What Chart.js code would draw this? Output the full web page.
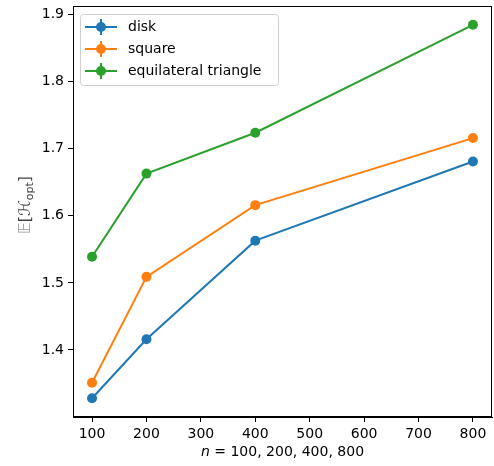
<!DOCTYPE html>
<html>
<head>
<meta charset="utf-8">
<script src="https://cdn.jsdelivr.net/npm/chart.js@4"></script>
<style>
  html, body { margin: 0; padding: 0; background: #fff; overflow: hidden; }
  canvas { display: block; }
</style>
</head>
<body>
<canvas id="grafico" width="497" height="466"></canvas>
<script>
// valores
const nValues = [100, 200, 400, 800];
const disk = [1.328, 1.416, 1.563, 1.681];
const square = [1.351, 1.509, 1.616, 1.716];
const triangle = [1.539, 1.663, 1.724, 1.885];
const seriesNames = ['disk', 'square', 'equilateral triangle'];
const xTicks = [100, 200, 300, 400, 500, 600, 700, 800];
const yTicks = [1.4, 1.5, 1.6, 1.7, 1.8, 1.9];

const colores = ['#1f77b4', '#ff7f0e', '#2ca02c'];
const fuente = 'DejaVu Sans';

function puntos(vals) {
  return nValues.map((n, i) => ({ x: n, y: vals[i] }));
}

function serie(nombre, vals, color) {
  return {
    label: nombre,
    data: puntos(vals),
    borderColor: color,
    backgroundColor: color,
    borderWidth: 2,
    pointRadius: 5,
    pointHoverRadius: 5,
    pointBorderWidth: 0,
    tension: 0
  };
}

// marco, leyenda y titulos de ejes
const extras = {
  id: 'extras',
  afterDraw(chart) {
    const ctx = chart.ctx;
    const a = chart.chartArea;
    ctx.save();
    ctx.strokeStyle = '#000';
    ctx.lineWidth = 1;
    ctx.strokeRect(Math.round(a.left) + 0.5, Math.round(a.top) + 0.5,
      Math.round(a.right - a.left) - 1, Math.round(a.bottom - a.top) - 1);

    // leyenda
    const lx = 80, ly = 14, lw = 198, lh = 71;
    ctx.beginPath();
    ctx.roundRect(lx + 0.5, ly + 0.5, lw, lh, 3);
    ctx.fillStyle = 'rgba(255,255,255,0.8)';
    ctx.fill();
    ctx.strokeStyle = '#d0d0d0';
    ctx.stroke();
    ctx.font = '14px "' + fuente + '"';
    ctx.textBaseline = 'middle';
    chart.data.datasets.forEach((ds, i) => {
      const y = ly + 13 + i * 22;
      ctx.strokeStyle = ds.borderColor;
      ctx.lineWidth = 2;
      ctx.beginPath();
      ctx.moveTo(85, y); ctx.lineTo(117, y);
      ctx.moveTo(101, y - 8); ctx.lineTo(101, y + 8);
      ctx.stroke();
      ctx.fillStyle = ds.borderColor;
      ctx.beginPath();
      ctx.arc(101, y, 5, 0, Math.PI * 2);
      ctx.fill();
      ctx.fillStyle = '#000';
      ctx.fillText(ds.label, 128, y);
    });

    // titulo eje x
    const cx = (a.left + a.right) / 2;
    const parte1 = 'n';
    const parte2 = ' = 100, 200, 400, 800';
    ctx.font = 'italic 14px "' + fuente + '"';
    const w1 = ctx.measureText(parte1).width;
    ctx.font = '14px "' + fuente + '"';
    const w2 = ctx.measureText(parte2).width;
    const x0 = cx - (w1 + w2) / 2;
    ctx.textBaseline = 'alphabetic';
    ctx.textAlign = 'left';
    ctx.fillStyle = '#000';
    ctx.font = 'italic 14px "' + fuente + '"';
    ctx.fillText(parte1, x0, 456);
    ctx.font = '14px "' + fuente + '"';
    ctx.fillText(parte2, x0 + w1, 456);

    // titulo eje y
    ctx.translate(30, 205);
    ctx.rotate(-Math.PI / 2);
    const t1 = '\u{1D53C}', t1b = '[', t2 = '\u210B', t3 = 'opt', t4 = ']';
    ctx.font = '16px "' + fuente + '"';
    const m1 = ctx.measureText(t1).width;
    const m1b = ctx.measureText(t1b).width;
    ctx.font = 'italic 16px "' + fuente + '"';
    const m2 = ctx.measureText(t2).width;
    ctx.font = '11px "' + fuente + '"';
    const m3 = ctx.measureText(t3).width;
    ctx.font = '16px "' + fuente + '"';
    const m4 = ctx.measureText(t4).width;
    let px = -(m1 + m1b + m2 + m3 + m4) / 2;
    ctx.fillStyle = '#999';
    ctx.font = '16px "' + fuente + '"';
    ctx.fillText(t1, px, 0); px += m1;
    ctx.fillStyle = '#444';
    ctx.fillText(t1b, px, 0); px += m1b;
    ctx.font = 'italic 16px "' + fuente + '"';
    ctx.fillText(t2, px, 0); px += m2;
    ctx.font = '11px "' + fuente + '"';
    ctx.fillText(t3, px, 3); px += m3;
    ctx.font = '16px "' + fuente + '"';
    ctx.fillText(t4, px, 0);
    ctx.restore();
  }
};

const ctxGrafico = document.getElementById('grafico').getContext('2d');
const grafico = new Chart(ctxGrafico, {
  type: 'line',
  data: {
    datasets: [
      serie(seriesNames[0], disk, colores[0]),
      serie(seriesNames[1], square, colores[1]),
      serie(seriesNames[2], triangle, colores[2])
    ]
  },
  options: {
    responsive: false,
    animation: false,
    layout: { padding: { left: 0, right: 2, top: 6, bottom: 0 } },
    plugins: {
      legend: { display: false },
      tooltip: { enabled: false }
    },
    scales: {
      x: {
        type: 'linear',
        min: 65,
        max: 835,
        afterBuildTicks: s => { s.ticks = xTicks.map(v => ({ value: v })); },
        afterFit: s => { s.height = 49; s.paddingLeft = 0; s.paddingRight = 0; },
        grid: { drawOnChartArea: false, drawTicks: true, tickLength: 5, color: '#000' },
        border: { display: true, color: '#000' },
        ticks: { color: '#000', padding: 4, maxRotation: 0, font: { family: fuente, size: 14 } }
      },
      y: {
        type: 'linear',
        min: 1.300,
        max: 1.913,
        afterBuildTicks: s => { s.ticks = yTicks.map(v => ({ value: v })); },
        afterFit: s => { s.width = 73; s.paddingTop = 0; s.paddingBottom = 0; },
        grid: { drawOnChartArea: false, drawTicks: true, tickLength: 5, color: '#000' },
        border: { display: true, color: '#000' },
        ticks: {
          color: '#000', padding: 4, font: { family: fuente, size: 14 },
          callback: v => v.toFixed(1)
        }
      }
    }
  },
  plugins: [extras]
});
</script>
</body>
</html>
